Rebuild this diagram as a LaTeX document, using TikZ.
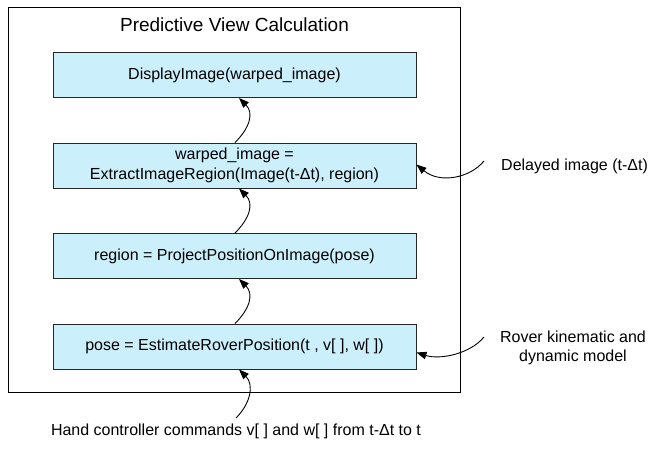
\documentclass[tikz,border=0pt]{standalone}
\usepackage{fontspec}
\setmainfont{Liberation Sans}
\usetikzlibrary{arrows.meta}
\begin{document}
\begin{tikzpicture}[x=1pt,y=-1pt,
  proc/.style={draw=black!85, fill=cyan!20, line width=0.9pt, minimum width=363pt, minimum height=45pt, align=center, font=\fontsize{16}{20}\selectfont, inner sep=0pt},
  lbl/.style={align=center, font=\fontsize{16}{19}\selectfont, inner sep=0pt},
  arr/.style={-{Triangle[length=10pt,width=7.5pt]}, line width=0.9pt}]
\useasboundingbox (0,0) rectangle (649,457);
\node[draw, line width=0.9pt, minimum width=452pt, minimum height=385pt, inner sep=0pt] (frame) at (234,199.5) {};
\node[lbl, font=\fontsize{19}{23}\selectfont] (title) at (234.5,25) {Predictive View Calculation};
\node[proc] (b1) at (234.5,75) {DisplayImage(warped\_image)};
\node[proc] (b2) at (234.5,165.5) {warped\_image =\\ExtractImageRegion(Image(t-Δt), region)};
\node[proc] (b3) at (234.5,256) {region = ProjectPositionOnImage(pose)};
\node[proc] (b4) at (234.5,346.5) {pose = EstimateRoverPosition(t , v[ ], w[ ])};
\node[lbl, anchor=west] (delayed) at (501,166) {Delayed image (t-Δt)};
\node[lbl] (rover) at (573,347.5) {Rover kinematic and\\dynamic model};
\node[lbl] (hand) at (236,431) {Hand controller commands v[ ] and w[ ] from t-Δt to t};
\coordinate (dt) at (484,161);
\coordinate (rt) at (484,337);
\coordinate (ht) at (236,418);
\draw[arr] ([xshift=0.5pt]b2.north) .. controls +(15,-15) and +(15,15) .. ([xshift=4.5pt]b1.south);
\draw[arr] ([xshift=0.5pt]b3.north) .. controls +(15,-15) and +(15,15) .. ([xshift=4.5pt]b2.south);
\draw[arr] ([xshift=0.5pt]b4.north) .. controls +(15,-15) and +(15,15) .. ([xshift=4.5pt]b3.south);
\draw[arr] (ht) .. controls +(15,-15) and +(15,15) .. ([xshift=4.5pt]b4.south);
\draw[arr] (dt) .. controls (470,178) and (440,184) .. ([yshift=1pt]b2.east);
\draw[arr] (rt) .. controls (470,354) and (440,360) .. ([yshift=-6pt]b4.east);
\end{tikzpicture}
\end{document}
